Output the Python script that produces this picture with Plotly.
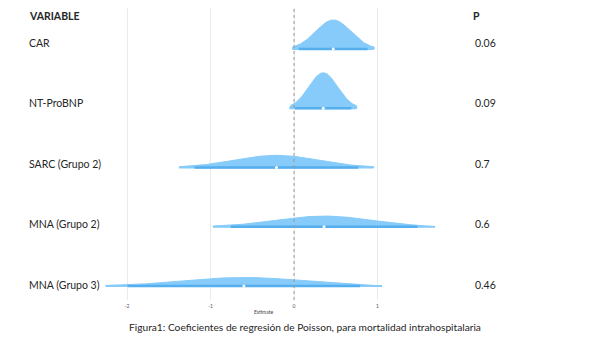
import numpy as np
import plotly.graph_objects as go

variables = ["CAR", "NT-ProBNP", "SARC (Grupo 2)", "MNA (Grupo 2)", "MNA (Grupo 3)"]
estimates = [0.47, 0.35, -0.21, 0.36, -0.60]
std_errors = [0.21, 0.172, 0.50, 0.57, 0.71]
p_values = ["0.06", "0.09", "0.7", "0.6", "0.46"]
x_ticks = [-2, -1, 0, 1]

rows = list(range(len(variables), 0, -1))  # 5 (top) .. 1 (bottom)
SCALE = 0.258
FILL = "#86CBF9"
LINE = "#55AEEE"
FONT = "Lato"

OFF = 8  # page body margin
fig = go.Figure()
for name, est, se, row in zip(variables, estimates, std_errors, rows):
    lo, hi = est - 2.33 * se, est + 2.33 * se
    xs = np.linspace(lo, hi, 200)
    dens = np.exp(-0.5 * ((xs - est) / se) ** 2) / (se * np.sqrt(2 * np.pi))
    px = [lo] + list(xs) + [hi, lo]
    py = [row] + list(row + SCALE * dens) + [row, row]
    fig.add_trace(go.Scatter(x=px, y=py, mode="lines", fill="toself", fillcolor=FILL,
                             line=dict(color=FILL, width=1), hoverinfo="skip", showlegend=False))
    fig.add_trace(go.Scatter(x=[lo, hi], y=[row, row], mode="lines",
                             line=dict(color=FILL, width=2), hoverinfo="skip", showlegend=False))
    fig.add_trace(go.Scatter(x=[est - 1.96 * se, est + 1.96 * se], y=[row, row], mode="lines",
                             line=dict(color=LINE, width=2.5), hoverinfo="skip", showlegend=False))
    fig.add_trace(go.Scatter(x=[est], y=[row], mode="markers",
                             marker=dict(color="white", size=3), hoverinfo="skip", showlegend=False))

W, H = 600, 337
L, R, T, B = 92, 158, 0, 45
pw, ph = W - L - R, H - T - B
ZERO_PX = 294 - OFF
UNIT = 83.5
ROW_PX = 59.25
def paper_x(px):
    return (px - OFF - L) / pw
def paper_y(py):
    return (ph - (py - OFF)) / ph

# y: row 1 base at reference px 286
ymin = 1 - (ph - (286 - OFF)) / ROW_PX
ymax = ymin + ph / ROW_PX

fig.add_shape(type="line", x0=0, x1=0, y0=0, y1=1, xref="x", yref="paper",
              line=dict(color="#999999", width=1, dash="dot"), layer="above")

ann = []
lab_font = dict(size=10.5, color="#262626")
ann.append(dict(x=paper_x(27), y=paper_y(8), xref="paper", yref="paper", text="<b>VARIABLE</b>",
                showarrow=False, xanchor="left", yanchor="top", font=lab_font))
ann.append(dict(x=paper_x(471), y=paper_y(8), xref="paper", yref="paper", text="<b>P</b>",
                showarrow=False, xanchor="left", yanchor="top", font=lab_font))
label_px = [43, 103, 164, 224, 285]
for name, p, lp in zip(variables, p_values, label_px):
    ann.append(dict(x=paper_x(27), y=paper_y(lp), xref="paper", yref="paper", text=name,
                    showarrow=False, xanchor="left", yanchor="middle", font=lab_font))
    ann.append(dict(x=paper_x(473), y=paper_y(lp), xref="paper", yref="paper", text=p,
                    showarrow=False, xanchor="left", yanchor="middle", font=lab_font))
ann.append(dict(x=paper_x(263), y=paper_y(312), xref="paper", yref="paper", text="Estimate",
                showarrow=False, xanchor="center", yanchor="middle", font=dict(size=5, color="#444")))
ann.append(dict(x=paper_x(305), y=paper_y(327), xref="paper", yref="paper",
                text="Figura1: Coeficientes de regresión de Poisson, para mortalidad intrahospitalaria",
                showarrow=False, xanchor="center", yanchor="middle", font=dict(size=10.2, color="#262626")))

fig.update_layout(
    width=W, height=H, margin=dict(l=L, r=R, t=T, b=B),
    plot_bgcolor="white", paper_bgcolor="white",
    font=dict(family=FONT),
    annotations=ann,
    xaxis=dict(range=[(L - ZERO_PX) / UNIT, (L + pw - ZERO_PX) / UNIT], tickvals=x_ticks,
               ticktext=[str(t) for t in x_ticks], showgrid=True, gridcolor="#EBEBEB", gridwidth=1,
               zeroline=False, showline=False, ticks="", ticklabelstandoff=2,
               tickfont=dict(size=5, color="#555")),
    yaxis=dict(range=[ymin, ymax], showgrid=False, zeroline=False, showticklabels=False,
               showline=False, ticks=""),
)
fig.write_html("out.html")
